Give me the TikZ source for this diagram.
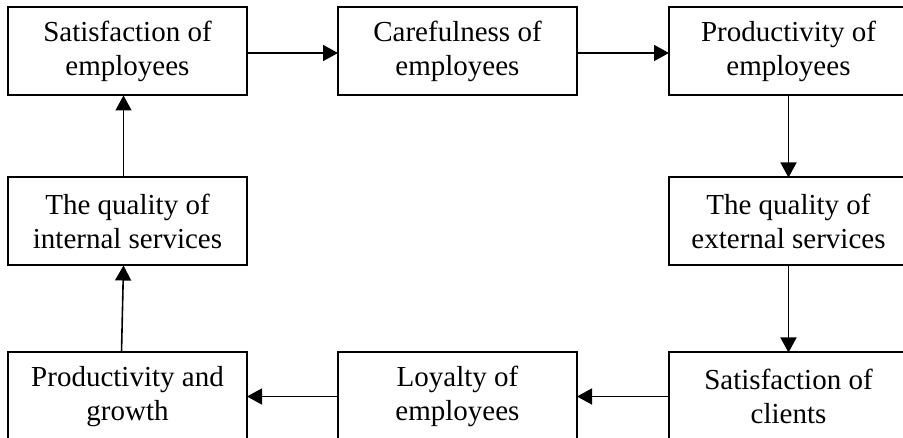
\documentclass[tikz,border=0pt]{standalone}
\usepackage{fontspec}
\setmainfont{Liberation Serif}
\usetikzlibrary{arrows.meta}
\begin{document}
\begin{tikzpicture}[x=1pt,y=-1pt,
  blk/.style={draw=black, line width=2pt, minimum width=239pt, minimum height=88pt,
    inner sep=0pt, outer sep=0pt, align=center,
    font=\fontsize{29}{34}\selectfont},
  conn/.style={line width=1.6pt, -{Triangle[length=15pt,width=16pt]}}]
\useasboundingbox (0,0) rectangle (903,438);
\fill[white] (0,0) rectangle (903,438);
\clip (0,0) rectangle (903,438);
\node[blk] (se) at (127.5,51.5) {Satisfaction of\\employees};
\node[blk] (ce) at (457.5,51.5) {Carefulness of\\employees};
\node[blk] (pe) at (788.5,51.5) {Productivity of\\employees};
\node[blk] (qi) at (127.5,221.5) {The quality of\\internal services};
\node[blk] (qe) at (788.5,221.5) {The quality of\\external services};
\node[blk] (pg) at (127.5,396.5) {Productivity and\\growth};
\node[blk] (le) at (457.5,396.5) {Loyalty of\\employees};
\node[blk] (sc) at (788.5,396.5) {Satisfaction of\\clients};
\draw[conn] ([yshift=-1.5pt]se.east) -- ([yshift=-1.5pt]ce.west);
\draw[conn] ([yshift=-1.5pt]ce.east) -- ([yshift=-1.5pt]pe.west);
\draw[conn] (pe.south) -- (qe.north);
\draw[conn] (qe.south) -- (sc.north);
\draw[conn] (sc.west) -- (le.east);
\draw[conn] (le.west) -- (pg.east);
\draw[conn] ([xshift=-6pt]pg.north) -- ([xshift=-4pt]qi.south);
\draw[conn] ([xshift=-4pt]qi.north) -- ([xshift=-4pt]se.south);
\end{tikzpicture}
\end{document}
